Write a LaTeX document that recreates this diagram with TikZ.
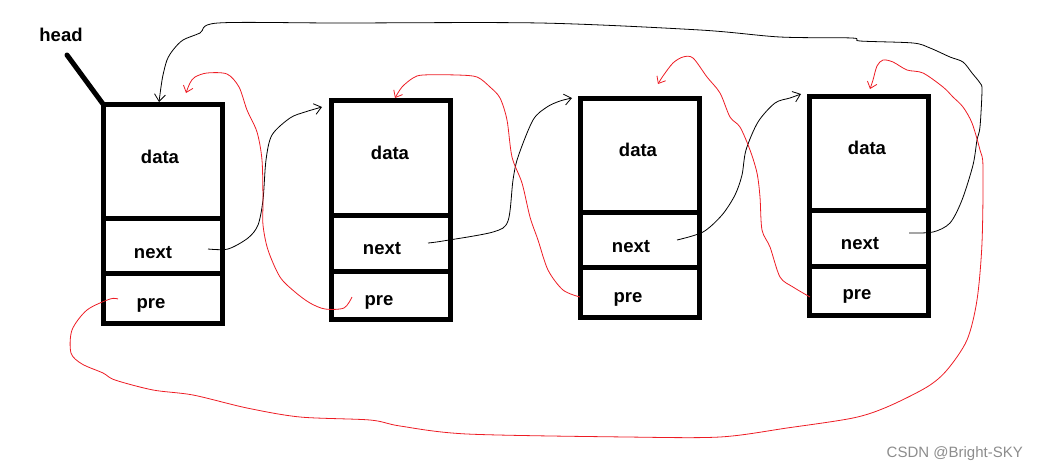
\documentclass[tikz,border=0pt]{standalone}
\usepackage{fontspec}
\setmainfont{Liberation Sans}
\usetikzlibrary{arrows.meta}
\definecolor{pred}{RGB}{237,28,36}
\begin{document}
\begin{tikzpicture}[x=1pt,y=-1pt,
  boxnode/.style={draw=black,line width=5pt,minimum width=119pt,minimum height=219pt,inner sep=0pt,outer sep=0pt},
  divline/.style={draw=black,line width=5pt},
  lbl/.style={font=\fontsize{18.5}{20}\selectfont\bfseries,inner sep=0pt,anchor=base},
  nextarr/.style={draw=black,line width=0.8pt,-{Straight Barb[length=7pt,width=11pt]}},
  prearr/.style={draw=pred,line width=0.8pt,-{Straight Barb[length=6pt,width=10pt]}},
  wm/.style={font=\fontsize{15}{17}\selectfont,text=black!45,inner sep=0pt,anchor=base east}]
\useasboundingbox (0,0) rectangle (1037,469);
% boxes
\node[boxnode] (b1) at (162.5,213.5) {};
\node[boxnode] (b2) at (391,210) {};
\node[boxnode] (b3) at (640,207.5) {};
\node[boxnode] (b4) at (869,205.5) {};
\draw[divline] (b1.west |- 0,218) -- (b1.east |- 0,218);
\draw[divline] (b1.west |- 0,273) -- (b1.east |- 0,273);
\draw[divline] (b2.west |- 0,215) -- (b2.east |- 0,215);
\draw[divline] (b2.west |- 0,271) -- (b2.east |- 0,271);
\draw[divline] (b3.west |- 0,212) -- (b3.east |- 0,212);
\draw[divline] (b3.west |- 0,267) -- (b3.east |- 0,267);
\draw[divline] (b4.west |- 0,210) -- (b4.east |- 0,210);
\draw[divline] (b4.west |- 0,266) -- (b4.east |- 0,266);
% labels
\node[lbl] (d1) at (160,163) {data};
\node[lbl] (n1) at (153,258) {next};
\node[lbl] (p1) at (151,308) {pre};
\node[lbl] (d2) at (390,159) {data};
\node[lbl] (n2) at (382,254) {next};
\node[lbl] (p2) at (379,305) {pre};
\node[lbl] (d3) at (638,156) {data};
\node[lbl] (n3) at (631,252) {next};
\node[lbl] (p3) at (628,302) {pre};
\node[lbl] (d4) at (867,154) {data};
\node[lbl] (n4) at (860,249) {next};
\node[lbl] (p4) at (857,299) {pre};
% head
\node[lbl] (head) at (61,41) {head};
\coordinate (hl) at (67,55);
\draw[line width=5pt,line cap=round] (hl) -- (b1.north west);
% named ends
\coordinate (s1) at (208,249);
\coordinate (t1) at (322,107);
\coordinate (s2) at (428,243);
\coordinate (t2) at (572,98);
\coordinate (s3) at (677,240);
\coordinate (t3) at (801,94);
\coordinate (s4) at (909,233);
\coordinate (t4) at (159,102);
\coordinate (r1) at (352,297);
\coordinate (u1) at (186,93);
\coordinate (r2) at (580,297);
\coordinate (u2) at (395,98);
\coordinate (r3) at (810,297);
\coordinate (u3) at (658,84);
\coordinate (r4) at (118,299);
\coordinate (u4) at (870,89);
% next pointers (black)
\draw[nextarr] plot[smooth,tension=0.5] coordinates {(s1) (228,249) (248,238) (258,225) (263,200) (266,160) (272,135) (290,118) (305,112) (t1)};
\draw[nextarr] plot[smooth,tension=0.5] coordinates {(s2) (443,241) (493,232) (508,221) (513,180) (518,157) (533,120) (547,107) (560,101) (t2)};
\draw[nextarr] plot[smooth,tension=0.5] coordinates {(s3) (703,232) (722,215) (735,195) (742,175) (746,150) (758,122) (775,103) (790,98) (t3)};
\draw[nextarr] plot[smooth,tension=0.5] coordinates {(s4) (933,232) (950,223) (962,200) (973,165) (977,140) (980,127) (982,90) (980,83) (972,73) (963,62) (950,57) (930,48) (913,43) (860,41) (852,38) (780,37) (700,30) (540,23) (340,23) (218,23) (200,33) (183,40) (173,50) (167,60) (163,75) (161,87) (t4)};
% pre pointers (red)
\draw[prearr] plot[smooth,tension=0.5] coordinates {(r1) (344,308) (325,309) (310,303) (295,292) (280,277) (268,250) (263,225) (263,200) (262,160) (257,132) (247,110) (239,87) (227,74) (207,73) (195,77) (190,83) (u1)};
\draw[prearr] plot[smooth,tension=0.5] coordinates {(r2) (563,290) (548,270) (538,240) (530,217) (522,183) (512,157) (507,120) (500,98) (490,87) (477,77) (457,75) (423,75) (413,78) (402,87) (u2)};
\draw[prearr] plot[smooth,tension=0.5] coordinates {(r3) (793,287) (780,277) (770,247) (762,230) (760,197) (757,173) (750,150) (740,127) (730,117) (720,93) (707,77) (693,58) (683,57) (673,63) (663,76) (u3)};
\draw[prearr] plot[smooth,tension=0.5] coordinates {(r4) (110,299) (87,310) (72,330) (71,353) (82,364) (103,373) (115,380) (153,390) (193,395) (247,408) (300,417) (370,420) (400,426) (467,434) (627,437) (720,437) (787,428) (853,418) (887,407) (927,387) (947,370) (967,340) (977,300) (982,243) (983,167) (980,150) (972,123) (963,107) (953,97) (943,87) (923,73) (907,70) (893,62) (883,60) (877,66) (873,80) (u4)};
% watermark
\node[wm] (wm) at (1023,457) {CSDN @Bright-SKY};
\end{tikzpicture}
\end{document}
